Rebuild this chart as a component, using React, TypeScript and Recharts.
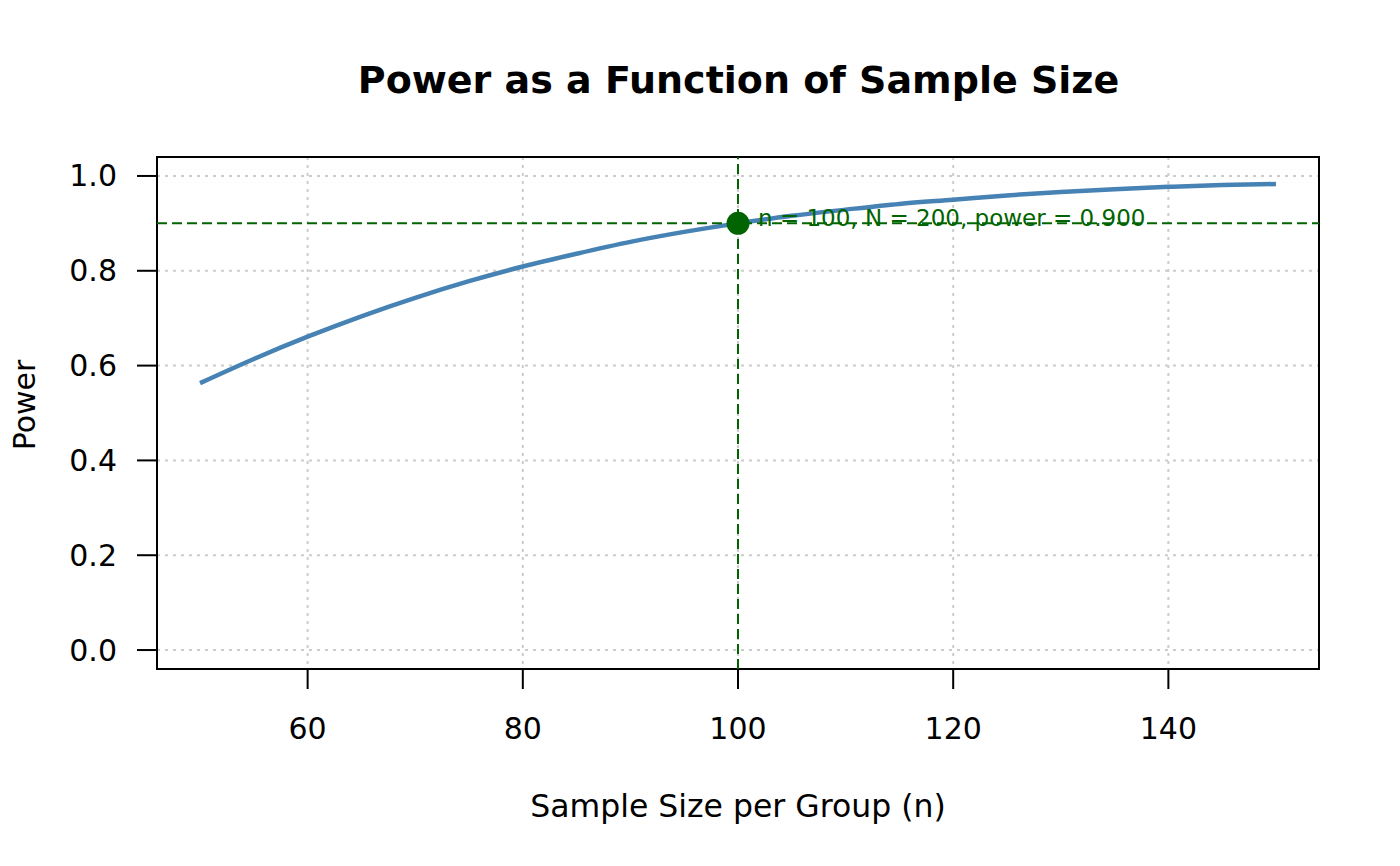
import React from 'react'
import { LineChart, Line, XAxis, YAxis, CartesianGrid, ReferenceLine, ReferenceDot, ReferenceArea } from 'recharts'

// power curve, n per group
const sampleSizes = [50, 55, 60, 65, 70, 75, 80, 85, 90, 95, 100, 105, 110, 115, 120, 125, 130, 135, 140, 145, 150]
const powerValues = [0.563, 0.614, 0.661, 0.704, 0.743, 0.778, 0.809, 0.836, 0.861, 0.882, 0.9, 0.916, 0.929, 0.941, 0.95, 0.959, 0.966, 0.972, 0.977, 0.981, 0.983]

const xTicks = [60, 80, 100, 120, 140]
const yTicks = [0, 0.2, 0.4, 0.6, 0.8, 1.0]

const targetN = 100
const targetTotal = 200
const targetPower = 0.9

const FONT = '"DejaVu Sans", sans-serif'
const GREEN = '#006400'

const data = sampleSizes.map((n, i) => ({ n, power: powerValues[i] }))
const annotation = `n = ${targetN}, N = ${targetTotal}, power = ${targetPower.toFixed(3)}`

const XTick = ({ x, y, payload }: any) => (
  <text x={x} y={y + 49.5} textAnchor="middle" fontSize={30} fontFamily={FONT} fill="#000">
    {payload.value}
  </text>
)

const YTick = ({ x, y, payload }: any) => (
  <text x={x - 20} y={y + 10.5} textAnchor="end" fontSize={30} fontFamily={FONT} fill="#000">
    {Number(payload.value).toFixed(1)}
  </text>
)

const DotLabel = (props: any) => {
  const vb = props.viewBox || {}
  const cx = vb.x + (vb.width || 0) / 2
  const cy = vb.y + (vb.height || 0) / 2
  return (
    <text x={cx + 20} y={cy + 3} fontSize={23} fontFamily={FONT} fill={GREEN}>
      {annotation}
    </text>
  )
}

export default function App() {
  return (
    <div style={{ position: 'absolute', left: 0, top: 0, width: 1400, height: 866, background: '#fff' }}>
      <LineChart width={1400} height={866} data={data} margin={{ top: 157, right: 81, bottom: 0, left: 0 }}>
        <CartesianGrid stroke="#cccccc" strokeWidth={2} strokeDasharray="3 5" />
        <XAxis
          dataKey="n"
          type="number"
          domain={[46, 154]}
          ticks={xTicks}
          allowDataOverflow
          height={197}
          tickSize={20}
          tickMargin={0}
          axisLine={false}
          tickLine={{ stroke: '#000', strokeWidth: 2 }}
          tick={<XTick />}
        />
        <YAxis
          type="number"
          domain={[-0.04, 1.04]}
          ticks={yTicks}
          allowDataOverflow
          width={157}
          tickSize={20}
          tickMargin={0}
          axisLine={false}
          tickLine={{ stroke: '#000', strokeWidth: 2 }}
          tick={<YTick />}
        />
        <Line
          type="monotone"
          dataKey="power"
          stroke="#4682B4"
          strokeWidth={4.5}
          dot={false}
          isAnimationActive={false}
        />
        <ReferenceLine y={targetPower} stroke={GREEN} strokeWidth={2} strokeDasharray="10 5" />
        <ReferenceLine x={targetN} stroke={GREEN} strokeWidth={2} strokeDasharray="10 5" />
        <ReferenceArea x1={46} x2={154} y1={-0.04} y2={1.04} fill="none" stroke="#000" strokeWidth={2} />
        <ReferenceDot x={targetN} y={targetPower} r={11.5} fill={GREEN} stroke="none" label={<DotLabel />} />
      </LineChart>
      <svg width={1400} height={866} style={{ position: 'absolute', left: 0, top: 0, pointerEvents: 'none' }}>
        <text x={738.5} y={93} textAnchor="middle" fontSize={38} fontWeight="bold" fontFamily={FONT} fill="#000">
          Power as a Function of Sample Size
        </text>
        <text x={738} y={817} textAnchor="middle" fontSize={31.5} fontFamily={FONT} fill="#000">
          Sample Size per Group (n)
        </text>
        <text x={35} y={405} transform="rotate(-90 35 405)" textAnchor="middle" fontSize={30} fontFamily={FONT} fill="#000">
          Power
        </text>
      </svg>
    </div>
  )
}
